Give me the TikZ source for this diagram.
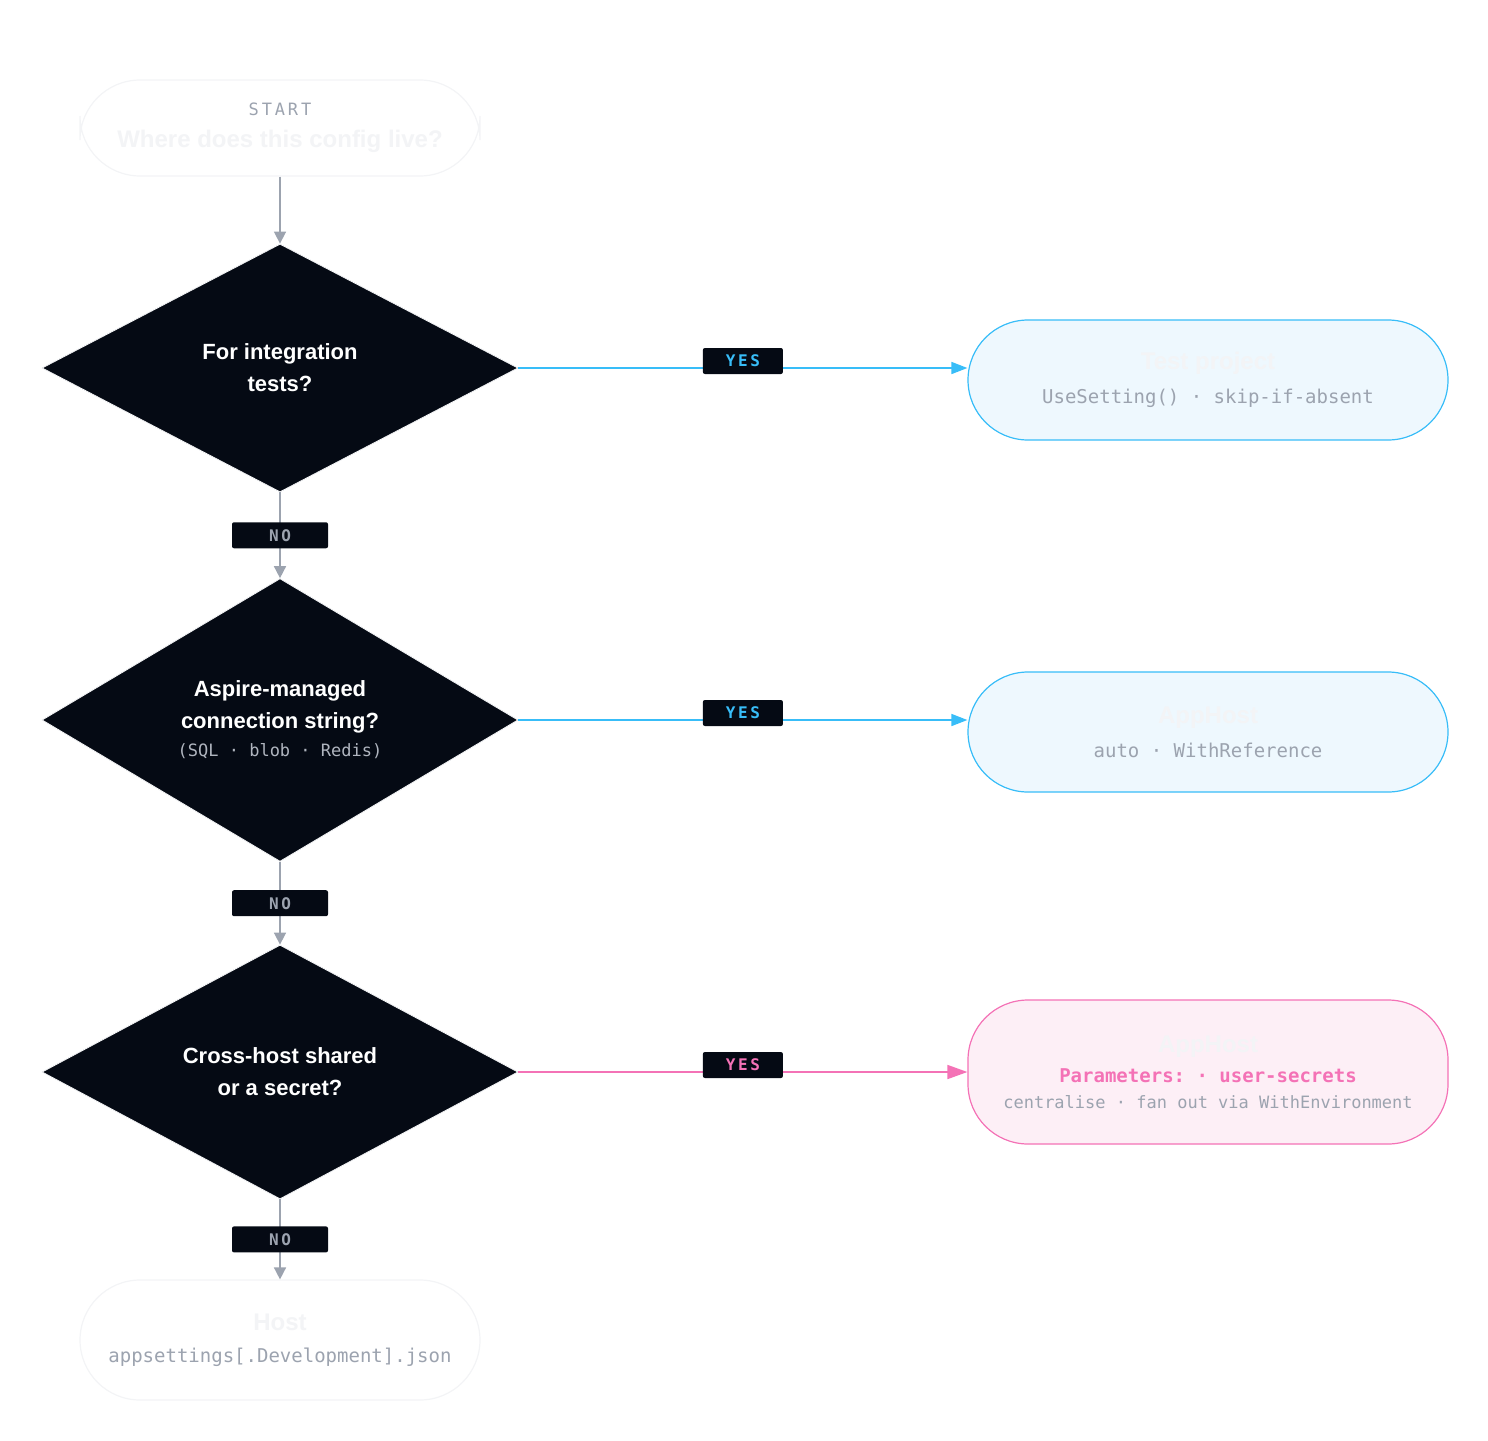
\documentclass[tikz,border=0pt]{standalone}
\usepackage{fontspec}
\setmainfont{Liberation Sans}
\setmonofont{DejaVu Sans Mono}
\usetikzlibrary{shapes.geometric,arrows.meta}
\definecolor{ink}{HTML}{050A14}
\definecolor{muted}{HTML}{9CA3AF}
\definecolor{sky}{HTML}{38BDF8}
\definecolor{skyfill}{HTML}{EEF8FE}
\definecolor{rose}{HTML}{F472B6}
\definecolor{rosefill}{HTML}{FDEFF6}
\definecolor{faint}{HTML}{F3F4F6}

\begin{document}
\begin{tikzpicture}[x=0.5pt, y=-0.5pt,
  decision/.style={diamond, draw=faint, fill=ink, minimum width=238pt, minimum height=124pt, inner sep=0pt, align=center, text=white, font=\bfseries\fontsize{11}{16}\selectfont},
  terminal/.style={rounded corners=30pt, draw=faint, fill=white, minimum width=200pt, minimum height=48pt, align=center, line width=0.6pt},
  outcome/.style={rounded corners=30pt, minimum width=240pt, align=center, line width=0.6pt},
  tag/.style={fill=ink, rounded corners=1pt, minimum height=13pt, inner sep=0pt, font=\ttfamily\bfseries\fontsize{8}{8}\selectfont},
  flow/.style={draw=muted, line width=0.8pt, -{Triangle[length=6pt,width=6pt]}}]

\useasboundingbox (0,0) rectangle (1488,1440);

% Start and end
\node[terminal] (start) at (280,128) {\textcolor{muted}{\ttfamily\fontsize{8.5}{10}\selectfont S\,T\,A\,R\,T}\\[4pt]\textcolor{faint}{\bfseries\fontsize{12}{14}\selectfont Where does this config live?}};
\node[terminal, minimum height=60pt] (host) at (280,1340) {\textcolor{faint}{\bfseries\fontsize{12}{14}\selectfont Host}\\[4pt]\textcolor{muted}{\ttfamily\fontsize{9.5}{12}\selectfont appsettings[.Development].json}};

% Decisions
\node[decision] (q1) at (280,368) {For integration\\tests?};
\node[decision, minimum height=127pt] (q2) at (280,720) {Aspire-managed\\connection string?\\[-2pt]{\mdseries\ttfamily\fontsize{8.5}{12}\selectfont\color{muted!80!white}(SQL · blob · Redis)}};
\node[decision, minimum height=127pt] (q3) at (280,1072) {Cross-host shared\\or a secret?};

% Outcomes
\node[outcome, draw=sky, fill=skyfill, minimum height=60pt] (test) at (1208,380) {\textcolor{faint}{\bfseries\fontsize{12}{14}\selectfont Test project}\\[5pt]\textcolor{muted}{\ttfamily\fontsize{9.5}{12}\selectfont UseSetting() · skip-if-absent}};
\node[outcome, draw=sky, fill=skyfill, minimum height=60pt] (apphost) at (1208,732) {\textcolor{faint}{\bfseries\fontsize{12}{14}\selectfont AppHost}\\[5pt]\textcolor{muted}{\ttfamily\fontsize{9.5}{12}\selectfont auto · WithReference}};
\node[outcome, draw=rose, fill=rosefill, minimum height=72pt] (secrets) at (1208,1072) {\textcolor{faint}{\bfseries\fontsize{12}{14}\selectfont AppHost}\\[3pt]\textcolor{rose}{\ttfamily\bfseries\fontsize{9.5}{12}\selectfont Parameters: · user-secrets}\\[1pt]\textcolor{muted}{\ttfamily\fontsize{8.5}{12}\selectfont centralise · fan out via WithEnvironment}};

% Vertical flow
\draw[flow] (start) -- (q1);
\draw[flow] (q1) -- node[tag, minimum width=48pt, text=muted] {N\,O} (q2);
\draw[flow] (q2) -- node[tag, minimum width=48pt, text=muted] {N\,O} (q3);
\draw[flow] (q3) -- node[tag, minimum width=48pt, text=muted] {N\,O} (host);

% Yes branches
\draw[flow, draw=sky, -{Triangle[length=8pt,width=6pt]}] (q1.east) -- node[tag, minimum width=40pt, text=sky, yshift=3.5pt] {Y\,E\,S} (test.west |- q1.east);
\draw[flow, draw=sky, -{Triangle[length=8pt,width=6pt]}] (q2.east) -- node[tag, minimum width=40pt, text=sky, yshift=3.5pt] {Y\,E\,S} (apphost.west |- q2.east);
\draw[flow, draw=rose, -{Triangle[length=10pt,width=7pt]}] (q3.east) -- node[tag, minimum width=40pt, text=rose, yshift=3.5pt] {Y\,E\,S} (secrets.west);

\end{tikzpicture}
\end{document}
